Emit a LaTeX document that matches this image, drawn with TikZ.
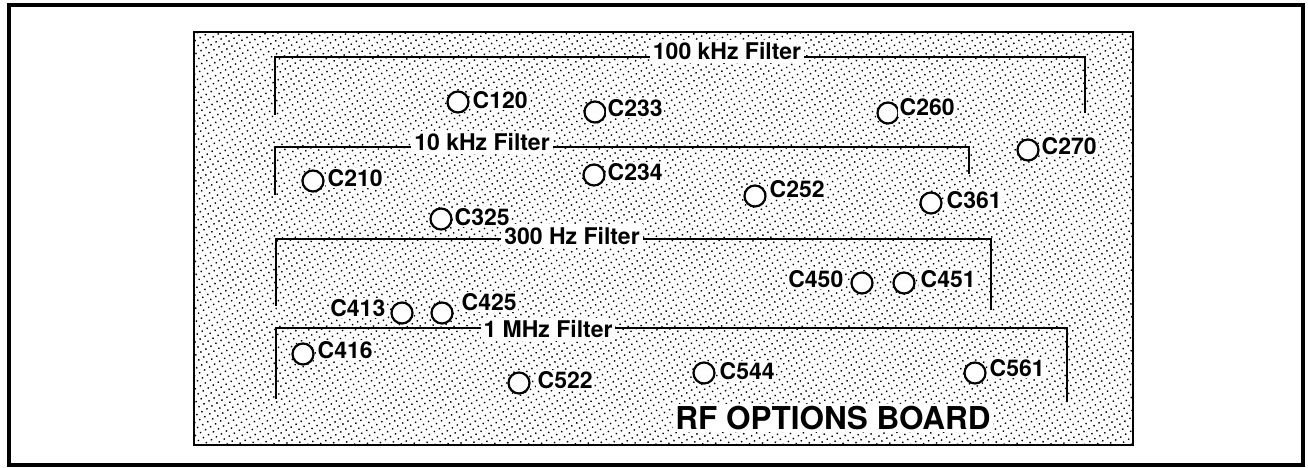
\documentclass[tikz,border=0pt]{standalone}
\usepackage{fontspec}
\setmainfont{TeX Gyre Heros}
\usetikzlibrary{patterns.meta}
\begin{document}
\begin{tikzpicture}[x=1pt,y=-1pt,
  capac/.style={circle, draw, line width=2.2pt, fill=white, minimum size=21pt, inner sep=0pt},
  lbl/.style={font=\fontsize{23}{26}\selectfont\bfseries, fill=white, inner sep=1.5pt},
  flt/.style={font=\fontsize{23}{26}\selectfont\bfseries, fill=white, inner sep=3pt},
  brk/.style={line width=2.2pt},
  frame/.style={line width=3.5pt},
  board/.style={line width=2pt, pattern={Dots[distance=5.8pt, radius=1pt, angle=30]}}]
\useasboundingbox (0,0) rectangle (1308,468);
\draw[frame] (9,5) rectangle (1303,465);
\draw[board] (194,32) rectangle (1133,445);

% 100 kHz bracket
\coordinate (k100l) at (275,115);
\coordinate (k100m) at (727,57);
\coordinate (k100r) at (1085,113);
\draw[brk] (k100l) |- (k100m) -| (k100r);
\node[flt] (f100) at (727,51.5) {100 kHz Filter};

% 10 kHz bracket
\coordinate (k10l) at (275,195);
\coordinate (k10m) at (482,147);
\coordinate (k10r) at (969,174);
\draw[brk] (k10l) |- (k10m) -| (k10r);
\node[flt] (f10) at (482,142.5) {10 kHz Filter};

% 300 Hz bracket
\coordinate (h300l) at (276,306);
\coordinate (h300m) at (572,239);
\coordinate (h300r) at (991,310);
\draw[brk] (h300l) |- (h300m) -| (h300r);
\node[flt] (f300) at (572,236) {300 Hz Filter};

% 1 MHz bracket
\coordinate (m1l) at (276,399);
\coordinate (m1m) at (548,328);
\coordinate (m1r) at (1067,402);
\draw[brk] (m1l) |- (m1m) -| (m1r);
\node[flt] (f1m) at (548,329.5) {1 MHz Filter};

% capacitors
\node[capac] (c120) at (458,102) {};
\node[lbl, anchor=west] (l120) at (471,100) {C120};
\node[capac] (c233) at (595,112) {};
\node[lbl, anchor=west] (l233) at (606,108) {C233};
\node[capac] (c260) at (888,113) {};
\node[lbl, anchor=west] (l260) at (898,107) {C260};
\node[capac] (c270) at (1028,150) {};
\node[lbl, anchor=west] (l270) at (1040,146) {C270};
\node[capac] (c210) at (313,181) {};
\node[lbl, anchor=west] (l210) at (326,178) {C210};
\node[capac] (c234) at (594,175) {};
\node[lbl, anchor=west] (l234) at (606,172) {C234};
\node[capac] (c325) at (441,219) {};
\node[lbl, anchor=west] (l325) at (453,217) {C325};
\node[capac] (c252) at (755,196) {};
\node[lbl, anchor=west] (l252) at (768,189) {C252};
\node[capac] (c361) at (931,203) {};
\node[lbl, anchor=west] (l361) at (945,200) {C361};
\node[capac] (c450) at (862,283) {};
\node[lbl, anchor=east] (l450) at (845,279) {C450};
\node[capac] (c451) at (904,283) {};
\node[lbl, anchor=west] (l451) at (919,279) {C451};
\node[capac] (c413) at (402,313) {};
\node[lbl, anchor=east] (l413) at (387,308) {C413};
\node[capac] (c425) at (442,313) {};
\node[lbl, anchor=west] (l425) at (460,302) {C425};
\node[capac] (c416) at (303,354) {};
\node[lbl, anchor=west] (l416) at (316,350) {C416};
\node[capac] (c522) at (519,383) {};
\node[lbl, anchor=west] (l522) at (536,380) {C522};
\node[capac] (c544) at (704,373) {};
\node[lbl, anchor=west] (l544) at (718,371) {C544};
\node[capac] (c561) at (975,373) {};
\node[lbl, anchor=west] (l561) at (988,368) {C561};

\node[font=\fontsize{31.5}{34}\selectfont\bfseries, fill=white, inner sep=2pt] (title) at (833,418) {RF OPTIONS BOARD};
\end{tikzpicture}
\end{document}
